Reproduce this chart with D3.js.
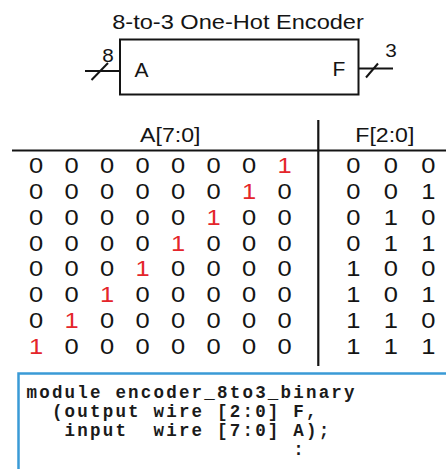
<!DOCTYPE html>
<html>
<head>
<meta charset="utf-8">
<script src="https://cdn.jsdelivr.net/npm/d3@7"></script>
<style>
html,body{margin:0;padding:0;background:#fff;}
svg{display:block;}
</style>
</head>
<body>
<svg id="chart" width="446" height="469"></svg>
<script>
// ---- data ----
const title = "8-to-3 One-Hot Encoder";
const inputBits = [7, 6, 5, 4, 3, 2, 1, 0];      // A[7:0] columns
const outputBits = [2, 1, 0];                     // F[2:0] columns
const rowIndex = [0, 1, 2, 3, 4, 5, 6, 7];
const aRows = ["00000001", "00000010", "00000100", "00001000",
               "00010000", "00100000", "01000000", "10000000"];
const fRows = ["000", "001", "010", "011", "100", "101", "110", "111"];
const headers = ["A[7:0]", "F[2:0]"];
const portLabels = ["A", "F"];
const busWidths = ["8", "3"];
const codeLines = [
  "module encoder_8to3_binary",
  "  (output wire [2:0] F,",
  "   input  wire [7:0] A);",
  "                     :"
];

const svg = d3.select("#chart");
const SANS = "'Liberation Sans', Arial, Helvetica, sans-serif";
const MONO = "'Liberation Mono', 'Courier New', monospace";
const INK = "#141414";
const RED = "#e4252b";

function stext(g, x, y, str, size, sx, anchor, fill) {
  return g.append("text")
    .attr("transform", `translate(${x},${y}) scale(${sx},1)`)
    .attr("text-anchor", anchor)
    .attr("font-family", SANS)
    .attr("font-size", size)
    .attr("fill", fill || INK)
    .text(str);
}

// ---- title ----
stext(svg, 238, 28.5, title, 20, 1.18, "middle");

// ---- block symbol ----
const blk = svg.append("g");
blk.append("rect").attr("x", 120).attr("y", 39.5).attr("width", 238.5).attr("height", 55)
  .attr("fill", "none").attr("stroke", INK).attr("stroke-width", 2);
blk.append("line").attr("x1", 85).attr("y1", 71).attr("x2", 120).attr("y2", 71)
  .attr("stroke", INK).attr("stroke-width", 2);
blk.append("line").attr("x1", 91.5).attr("y1", 80).attr("x2", 108).attr("y2", 63)
  .attr("stroke", INK).attr("stroke-width", 2);
blk.append("line").attr("x1", 358.5).attr("y1", 68.5).attr("x2", 393).attr("y2", 68.5)
  .attr("stroke", INK).attr("stroke-width", 2);
blk.append("line").attr("x1", 366).attr("y1", 77.5).attr("x2", 378).attr("y2", 63.5)
  .attr("stroke", INK).attr("stroke-width", 2);
stext(blk, 108, 61.5, busWidths[0], 18.5, 1.12, "middle");
stext(blk, 391, 56.5, busWidths[1], 18.5, 1.12, "middle");
stext(blk, 134.5, 76.5, portLabels[0], 21, 1.0, "start");
stext(blk, 332.5, 76, portLabels[1], 21, 1.0, "start");

// ---- truth table ----
const xA = d3.scalePoint().domain(inputBits).range([36, 284.5]);
const xF = d3.scalePoint().domain(outputBits).range([353.3, 428.3]);
const y = d3.scalePoint().domain(rowIndex).range([165, 346]);

const tbl = svg.append("g");
stext(tbl, (xA.range()[0] + xA.range()[1]) / 2 + 10, 142, headers[0], 21, 1.1, "middle");
stext(tbl, (xF.range()[0] + xF.range()[1]) / 2 - 6, 142, headers[1], 21, 1.1, "middle");

tbl.append("line").attr("x1", 12).attr("y1", 150.5).attr("x2", 446).attr("y2", 150.5)
  .attr("stroke", INK).attr("stroke-width", 2.2);
tbl.append("line").attr("x1", 318.3).attr("y1", 120).attr("x2", 318.3).attr("y2", 366)
  .attr("stroke", INK).attr("stroke-width", 2.2);

rowIndex.forEach(r => {
  inputBits.forEach((b, i) => {
    const v = aRows[r][i];
    stext(tbl, xA(b), y(r) + 8, v, 22, 1.16, "middle", v === "1" ? RED : INK);
  });
  outputBits.forEach((b, i) => {
    stext(tbl, xF(b), y(r) + 8, fRows[r][i], 22, 1.16, "middle", INK);
  });
});

// ---- code box ----
const code = svg.append("g");
code.append("rect").attr("x", 18.5).attr("y", 373.5).attr("width", 460).attr("height", 200)
  .attr("fill", "none").attr("stroke", "#3a9ad6").attr("stroke-width", 2.5);
const yCode = d3.scalePoint().domain(d3.range(codeLines.length)).range([398, 455]);
codeLines.forEach((ln, i) => {
  code.append("text")
    .attr("x", 26.5).attr("y", yCode(i))
    .attr("font-family", MONO).attr("font-weight", "bold")
    .attr("font-size", 17.5).attr("letter-spacing", 2.2)
    .attr("fill", "#1a1a1a")
    .style("white-space", "pre")
    .text(ln);
});
</script>
</body>
</html>
